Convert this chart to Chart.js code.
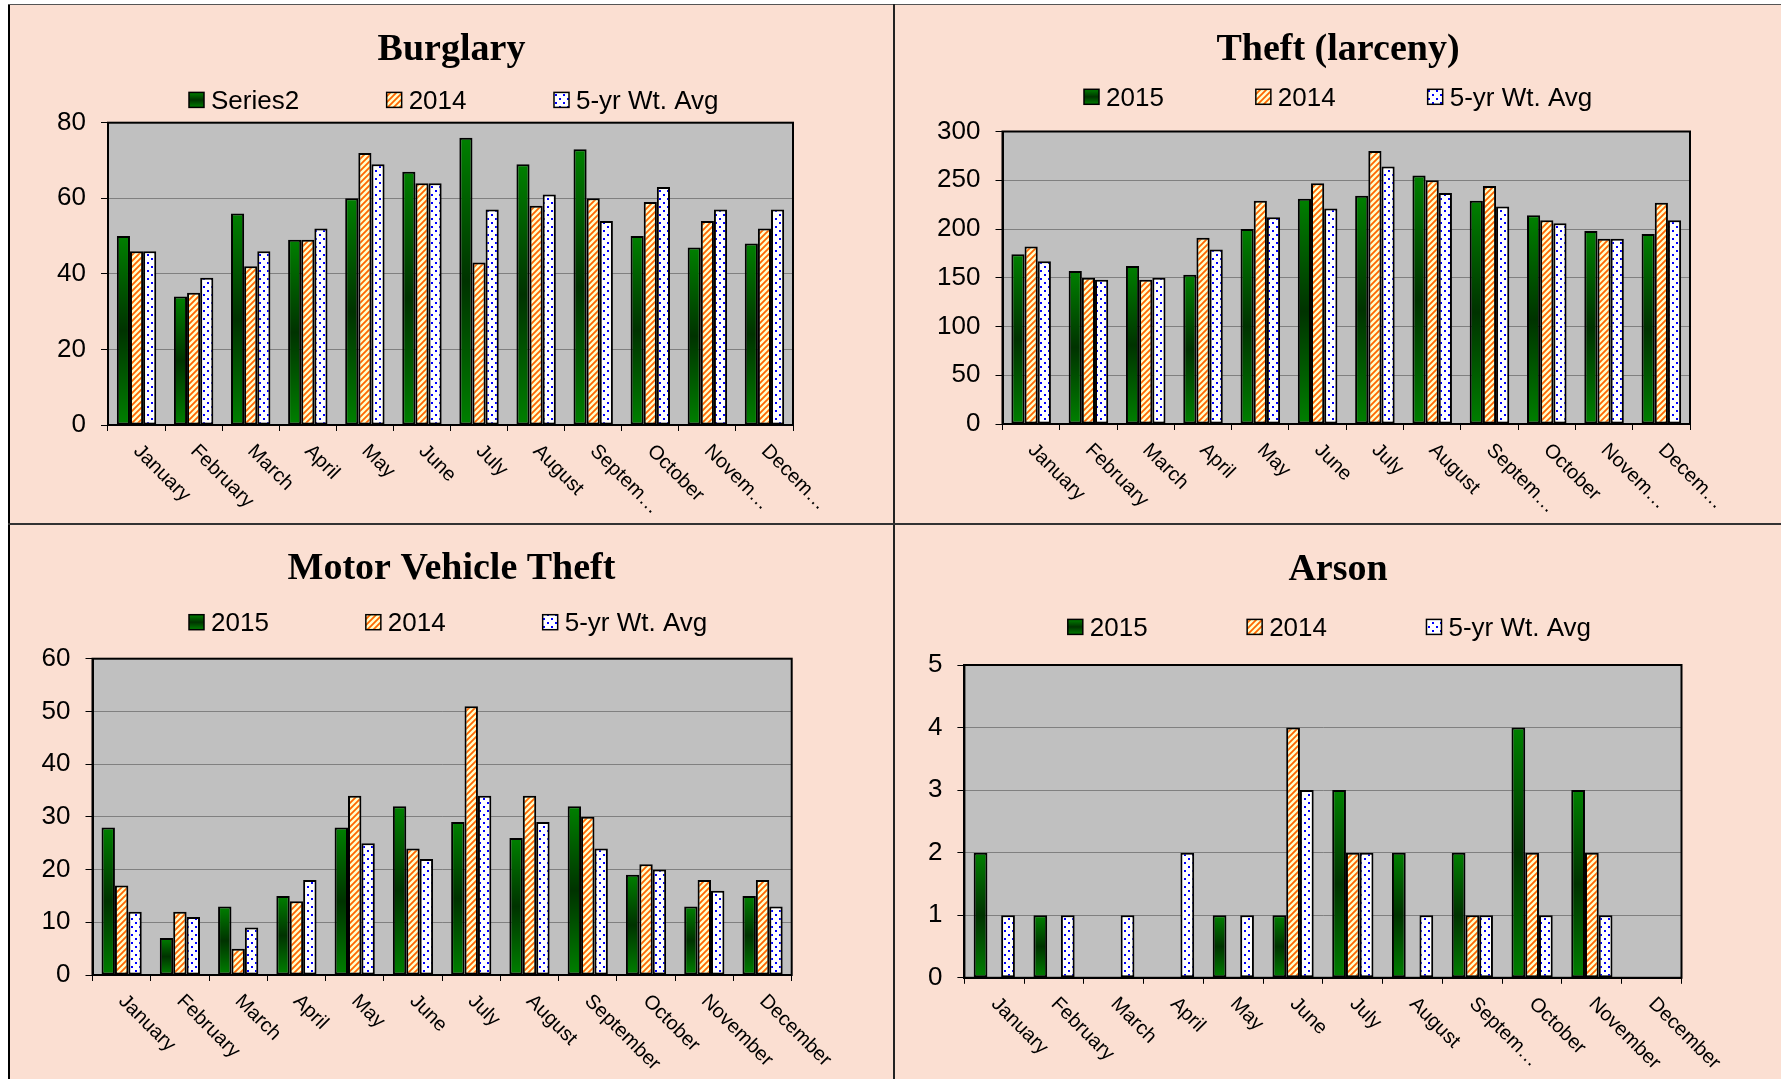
<!DOCTYPE html>
<html>
<head>
<meta charset="utf-8">
<script src="https://cdn.jsdelivr.net/npm/chart.js@4.4.0/dist/chart.umd.min.js"></script>
<style>
  html, body { margin: 0; padding: 0; background: #fff; }
  body { width: 1781px; height: 1079px; position: relative; overflow: hidden; }
  .line { position: absolute; background: #000; }
  canvas { position: absolute; background: #FBDFD2; }
</style>
</head>
<body>
<canvas id="burglary" width="883" height="518" style="left:10px;top:5px"></canvas>
<canvas id="theft" width="886" height="518" style="left:895px;top:5px"></canvas>
<canvas id="mvt" width="883" height="554" style="left:10px;top:525px"></canvas>
<canvas id="arson" width="886" height="554" style="left:895px;top:525px"></canvas>
<div class="line" style="left:8px;top:4px;width:2px;height:1075px"></div>
<div class="line" style="left:8px;top:4px;width:1773px;height:1px;background:#555"></div>
<div class="line" style="left:893px;top:4px;width:2px;height:1075px;background:#222"></div>
<div class="line" style="left:8px;top:523px;width:1773px;height:2px;background:#333"></div>
<script>
// DATA
const months = ['January', 'February', 'March', 'April', 'May', 'June', 'July',
  'August', 'September', 'October', 'November', 'December'];
const monthsCut = ['January', 'February', 'March', 'April', 'May', 'June', 'July',
  'August', 'Septem…', 'October', 'Novem…', 'Decem…'];
const monthsArson = ['January', 'February', 'March', 'April', 'May', 'June', 'July',
  'August', 'Septem…', 'October', 'November', 'December'];

const burglary2015 = [50, 34, 56, 49, 60, 67, 76, 69, 73, 50, 47, 48];
const burglary2014 = [46, 35, 42, 49, 72, 64, 43, 58, 60, 59, 54, 52];
const burglaryAvg  = [46, 39, 46, 52, 69, 64, 57, 61, 54, 63, 57, 57];
const burglaryTicks = [0, 20, 40, 60, 80];

const theft2015 = [174, 157, 162, 153, 200, 231, 234, 255, 229, 214, 198, 195];
const theft2014 = [182, 150, 148, 191, 229, 247, 280, 250, 244, 209, 190, 227];
const theftAvg  = [167, 148, 150, 179, 212, 221, 264, 237, 223, 206, 190, 209];
const theftTicks = [0, 50, 100, 150, 200, 250, 300];

const mvt2015 = [28, 7, 13, 15, 28, 32, 29, 26, 32, 19, 13, 15];
const mvt2014 = [17, 12, 5, 14, 34, 24, 51, 34, 30, 21, 18, 18];
const mvtAvg  = [12, 11, 9, 18, 25, 22, 34, 29, 24, 20, 16, 13];
const mvtTicks = [0, 10, 20, 30, 40, 50, 60];

const arson2015 = [2, 1, 0, 0, 1, 1, 3, 2, 2, 4, 3, 0];
const arson2014 = [0, 0, 0, 0, 0, 4, 2, 0, 1, 2, 2, 0];
const arsonAvg  = [1, 1, 1, 2, 1, 3, 2, 1, 1, 1, 1, 0];
const arsonTicks = [0, 1, 2, 3, 4, 5];

// FILLS
function greenGrad(ctx, top, bottom) {
  const g = ctx.createLinearGradient(0, top, 0, bottom);
  g.addColorStop(0, '#008000');
  g.addColorStop(0.5, '#003300');
  g.addColorStop(1, '#008000');
  return g;
}

function makeStripes() {
  const c = document.createElement('canvas');
  c.width = c.height = 6;
  const g = c.getContext('2d');
  g.fillStyle = '#FFFFCC';
  g.fillRect(0, 0, 6, 6);
  g.strokeStyle = '#FF6600';
  g.lineWidth = 1.8;
  g.beginPath();
  g.moveTo(-1, 7); g.lineTo(7, -1);
  g.moveTo(-1, 1); g.lineTo(1, -1);
  g.moveTo(5, 7); g.lineTo(7, 5);
  g.stroke();
  return g.createPattern(c, 'repeat');
}

function makeDots() {
  const c = document.createElement('canvas');
  c.width = c.height = 8;
  const g = c.getContext('2d');
  g.fillStyle = '#FFFFFF';
  g.fillRect(0, 0, 8, 8);
  g.fillStyle = '#0000FF';
  g.fillRect(1, 1, 2, 2);
  g.fillRect(5, 5, 2, 2);
  return g.createPattern(c, 'repeat');
}

const stripes = makeStripes();
const dots = makeDots();

const greenBar = ctx => {
  const chart = ctx.chart;
  if (ctx.type !== 'data' || !chart.chartArea) return '#006000';
  const y = chart.scales.y;
  const top = y.getPixelForValue(ctx.raw);
  const base = y.getPixelForValue(0);
  if (base - top < 1) return '#006000';
  return greenGrad(chart.ctx, top, base);
};

// TITLE, LEGEND, FRAME, ROTATED MONTH LABELS
const panelPlugin = {
  id: 'panel',
  beforeDraw(chart) {
    const { ctx, chartArea: a } = chart;
    ctx.save();
    ctx.fillStyle = '#C0C0C0';
    ctx.fillRect(a.left, a.top, a.right - a.left, a.bottom - a.top);
    ctx.restore();
  },
  afterDatasetsDraw(chart) {
    const { ctx, chartArea: a } = chart;
    ctx.save();
    ctx.strokeStyle = '#000';
    ctx.lineWidth = 2;
    ctx.strokeRect(a.left, a.top, a.right - a.left, a.bottom - a.top);
    ctx.restore();
  },
  afterDraw(chart, args, opts) {
    const { ctx, chartArea: a } = chart;
    ctx.save();

    ctx.fillStyle = '#000';
    ctx.font = 'bold 38px "Liberation Serif", "Times New Roman", serif';
    ctx.textAlign = 'center';
    ctx.textBaseline = 'alphabetic';
    ctx.fillText(opts.title, chart.width / 2, opts.titleY);

    ctx.font = '26px "Liberation Sans", Arial, sans-serif';
    ctx.textAlign = 'left';
    let x = opts.legendX;
    const by = opts.legendY - 16.5;
    chart.data.datasets.forEach((ds, i) => {
      ctx.fillStyle = i === 0 ? greenGrad(ctx, by, by + 15) : (i === 1 ? stripes : dots);
      ctx.fillRect(x, by, 15, 15);
      ctx.strokeStyle = '#000';
      ctx.lineWidth = 1.5;
      ctx.strokeRect(x, by, 15, 15);
      ctx.fillStyle = '#000';
      ctx.fillText(ds.label, x + 22, opts.legendY);
      x += 22 + ctx.measureText(ds.label).width + opts.legendGap;
    });

    const xs = chart.scales.x;
    ctx.font = '20px "Liberation Sans", Arial, sans-serif';
    ctx.textBaseline = 'middle';
    chart.data.labels.forEach((lab, i) => {
      ctx.save();
      ctx.translate(xs.getPixelForValue(i), a.bottom + 23);
      ctx.rotate(Math.PI / 4);
      ctx.fillText(lab, 0, 0);
      ctx.restore();
    });
    ctx.restore();
  }
};

function makeChart(id, cfg) {
  const common = {
    borderColor: '#000',
    borderWidth: 2,
    borderSkipped: false,
    categoryPercentage: 0.69,
    barPercentage: 1
  };
  return new Chart(document.getElementById(id), {
    type: 'bar',
    data: {
      labels: cfg.labels,
      datasets: [
        { ...common, label: cfg.names[0], data: cfg.series[0], backgroundColor: greenBar },
        { ...common, label: cfg.names[1], data: cfg.series[1], backgroundColor: stripes },
        { ...common, label: cfg.names[2], data: cfg.series[2], backgroundColor: dots }
      ]
    },
    plugins: [panelPlugin],
    options: {
      responsive: false,
      animation: false,
      events: [],
      layout: { padding: cfg.pad },
      plugins: {
        legend: { display: false },
        title: { display: false },
        tooltip: { enabled: false },
        panel: cfg.panel
      },
      scales: {
        x: {
          grid: { offset: true, drawOnChartArea: false, drawTicks: true, tickLength: 6, tickColor: '#000', color: '#000', lineWidth: 1 },
          border: { color: '#000', width: 2 },
          ticks: { display: false },
          afterFit: s => { s.height = 40; }
        },
        y: {
          min: cfg.ticks[0],
          max: cfg.ticks[cfg.ticks.length - 1],
          ticks: {
            stepSize: cfg.ticks[1] - cfg.ticks[0],
            font: { family: '"Liberation Sans", Arial, sans-serif', size: 26 },
            color: '#000',
            padding: 15
          },
          grid: { color: '#808080', lineWidth: 1, tickLength: 7, tickColor: '#000' },
          border: { color: '#000', width: 2 },
          afterFit: s => { s.width = cfg.axisW; }
        }
      }
    }
  });
}

makeChart('burglary', {
  labels: monthsCut,
  names: ['Series2', '2014', '5-yr Wt. Avg'],
  series: [burglary2015, burglary2014, burglaryAvg],
  ticks: burglaryTicks,
  axisW: 78,
  pad: { left: 20, right: 100, top: 117.7, bottom: 58 },
  panel: { title: 'Burglary', titleY: 55.2, legendX: 179, legendY: 103.9, legendGap: 87.5 }
});

makeChart('theft', {
  labels: monthsCut,
  names: ['2015', '2014', '5-yr Wt. Avg'],
  series: [theft2015, theft2014, theftAvg],
  ticks: theftTicks,
  axisW: 90,
  pad: { left: 17.5, right: 91, top: 126.5, bottom: 59 },
  panel: { title: 'Theft (larceny)', titleY: 55.2, legendX: 189, legendY: 100.8, legendGap: 92 }
});

makeChart('mvt', {
  labels: months,
  names: ['2015', '2014', '5-yr Wt. Avg'],
  series: [mvt2015, mvt2014, mvtAvg],
  ticks: mvtTicks,
  axisW: 76,
  pad: { left: 6.5, right: 101.3, top: 133.7, bottom: 64 },
  panel: { title: 'Motor Vehicle Theft', titleY: 53.8, legendX: 179, legendY: 106.2, legendGap: 97 }
});

makeChart('arson', {
  labels: monthsArson,
  names: ['2015', '2014', '5-yr Wt. Avg'],
  series: [arson2015, arson2014, arsonAvg],
  ticks: arsonTicks,
  axisW: 60,
  pad: { left: 9.4, right: 99.5, top: 140, bottom: 61.2 },
  panel: { title: 'Arson', titleY: 54.5, legendX: 172.8, legendY: 110.9, legendGap: 99.5 }
});
</script>
</body>
</html>
